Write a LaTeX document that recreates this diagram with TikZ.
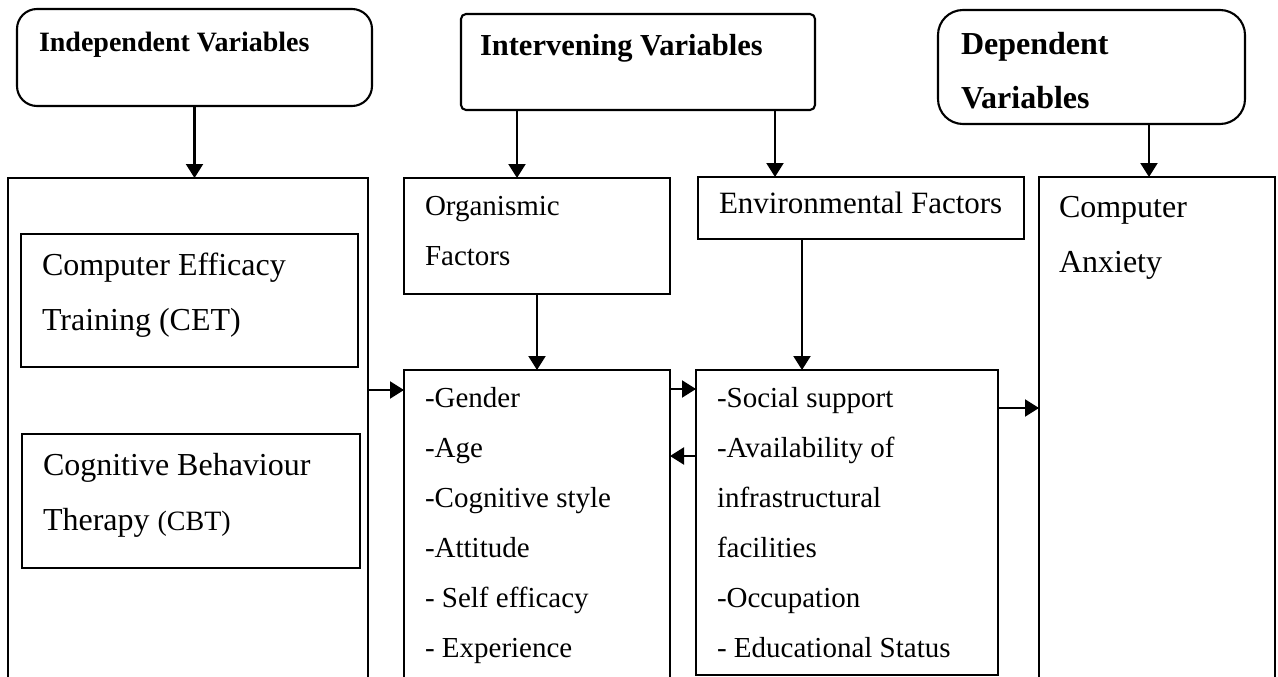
\documentclass[tikz,border=0pt]{standalone}
\usepackage{fontspec}
\setmainfont{Liberation Serif}
\usetikzlibrary{arrows.meta}
\tikzset{
  boxr/.style={draw, line width=2.1pt, rectangle, inner sep=0pt, outer sep=0pt, anchor=north west},
  arr/.style={line width=2.1pt, -{Triangle[length=14pt,width=17pt]}},
  txt/.style={anchor=base west, inner sep=0pt, outer sep=0pt},
  fbody/.style={font=\fontsize{29pt}{35pt}\selectfont},
  fbig/.style={font=\fontsize{32pt}{38pt}\selectfont},
}
\begin{document}
\begin{tikzpicture}[x=1pt,y=-1pt]
\useasboundingbox (0,0) rectangle (1278,677);
\clip (0,0) rectangle (1278,677);
% header boxes
\node[boxr, rounded corners=20pt, minimum width=355pt, minimum height=97pt] (indep) at (17,9) {};
\node[boxr, rounded corners=5pt, minimum width=354pt, minimum height=96pt] (interv) at (461,14) {};
\node[boxr, rounded corners=25pt, minimum width=307pt, minimum height=114pt] (dep) at (938,10) {};
% main boxes
\node[boxr, minimum width=360pt, minimum height=522pt] (indepBig) at (8,178) {};
\node[boxr, minimum width=337pt, minimum height=133pt] (cet) at (21,234) {};
\node[boxr, minimum width=338pt, minimum height=134pt] (cbt) at (22,434) {};
\node[boxr, minimum width=266pt, minimum height=116pt] (org) at (404,178) {};
\node[boxr, minimum width=326pt, minimum height=62pt] (env) at (698,177) {};
\node[boxr, minimum width=236pt, minimum height=523pt] (comp) at (1039,177) {};
\node[boxr, minimum width=266pt, minimum height=330pt] (orgList) at (404,370) {};
\node[boxr, minimum width=302pt, minimum height=305pt] (envList) at (696,370) {};
% texts
\node[txt, font=\fontsize{28pt}{34pt}\selectfont\bfseries] (tIndep) at (39,52) {Independent Variables};
\node[txt, font=\fontsize{30.5pt}{36pt}\selectfont\bfseries] (tInterv) at (480,56) {Intervening Variables};
\node[txt, font=\fontsize{32pt}{38pt}\selectfont\bfseries] (tDep1) at (961,55) {Dependent};
\node[txt, font=\fontsize{32pt}{38pt}\selectfont\bfseries] (tDep2) at (961,108) {Variables};
\node[txt, fbig] (tCet1) at (42,275) {Computer Efficacy};
\node[txt, fbig] (tCet2) at (42,330) {Training (CET)};
\node[txt, fbig] (tCbt1) at (43,475) {Cognitive Behaviour};
\node[txt, fbig] (tCbt2) at (43,530) {Therapy {\fontsize{28pt}{34pt}\selectfont(CBT)}};
\node[txt, fbody] (tOrg1) at (425,215) {Organismic};
\node[txt, fbody] (tOrg2) at (425,265) {Factors};
\node[txt, font=\fontsize{31pt}{37pt}\selectfont] (tEnv) at (719,213) {Environmental Factors};
\node[txt, fbig] (tComp1) at (1059,217) {Computer};
\node[txt, fbig] (tComp2) at (1059,272) {Anxiety};
\node[txt, fbody] (o1) at (425,407) {-Gender};
\node[txt, fbody] (o2) at (425,457) {-Age};
\node[txt, fbody] (o3) at (425,507) {-Cognitive style};
\node[txt, fbody] (o4) at (425,557) {-Attitude};
\node[txt, fbody] (o5) at (425,607) {- Self efficacy};
\node[txt, fbody] (o6) at (425,657) {- Experience};
\node[txt, fbody] (e1) at (717,407) {-Social support};
\node[txt, fbody] (e2) at (717,457) {-Availability of};
\node[txt, fbody] (e3) at (717,507) {infrastructural};
\node[txt, fbody] (e4) at (717,557) {facilities};
\node[txt, fbody] (e5) at (717,607) {-Occupation};
\node[txt, fbody] (e6) at (717,657) {- Educational Status};
% connector x / y positions
\coordinate (xA) at (517,0);
\coordinate (xB) at (775,0);
\coordinate (xC) at (1149,0);
\coordinate (xD) at (802,0);
\coordinate (yA) at (0,390);
\coordinate (yB) at (0,389);
\coordinate (yC) at (0,456);
\coordinate (yD) at (0,408);
% connectors
\draw[arr] (indep.south) -- (indep.south |- indepBig.north);
\draw[arr] (interv.south -| xA) -- (org.north -| xA);
\draw[arr] (interv.south -| xB) -- (env.north -| xB);
\draw[arr] (dep.south -| xC) -- (comp.north -| xC);
\draw[arr] (org.south) -- (orgList.north);
\draw[arr] (env.south -| xD) -- (envList.north -| xD);
\draw[arr] (indepBig.east |- yA) -- (orgList.west |- yA);
\draw[arr] (orgList.east |- yB) -- (envList.west |- yB);
\draw[arr] (envList.west |- yC) -- (orgList.east |- yC);
\draw[arr] (envList.east |- yD) -- (comp.west |- yD);
\end{tikzpicture}
\end{document}
